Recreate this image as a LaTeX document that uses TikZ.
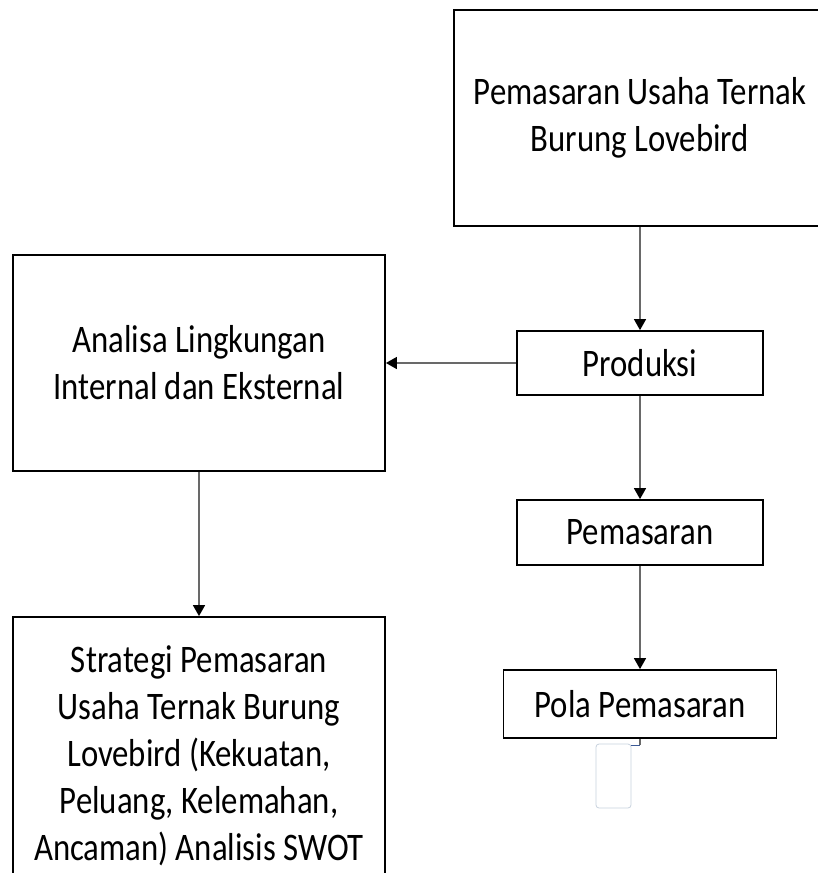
\documentclass[tikz,border=0pt]{standalone}
\usepackage{fontspec}
\setmainfont[FakeStretch=0.84]{Carlito}
\usetikzlibrary{arrows.meta}
\definecolor{conncol}{RGB}{105,105,105}
\definecolor{ghostcol}{RGB}{200,210,222}
\definecolor{stubblue}{RGB}{60,90,150}
\begin{document}
\begin{tikzpicture}[x=1pt,y=-1pt,
  box/.style={draw=black, line width=1.8pt, fill=white, align=center, inner sep=0pt,
              font=\fontsize{39}{47}\selectfont},
  txt/.style={align=center, inner sep=0pt, font=\fontsize{39}{47}\selectfont},
  conn/.style={draw=conncol, line width=1.4pt, -{Triangle[length=11pt,width=12pt,color=black]}},
  stub/.style={draw=conncol, line width=1.4pt},
  ghost/.style={draw=ghostcol, line width=0.8pt, rounded corners=3pt, inner sep=0pt}
]
\clip (0,0) rectangle (818,873);
\fill[white] (0,0) rectangle (818,873);

\node[box, minimum width=372pt, minimum height=216pt] (top) at (640,118)
  {Pemasaran Usaha Ternak\\Burung Lovebird};
\node[box, minimum width=372pt, minimum height=216pt] (anal) at (199,363)
  {Analisa Lingkungan\\Internal dan Eksternal};
\node[box, minimum width=246pt, minimum height=64pt] (prod) at (640,363) {Produksi};
\node[box, minimum width=246pt, minimum height=65pt] (pem) at (640,532.5) {Pemasaran};
\node[box, minimum width=273pt, minimum height=68pt] (pola) at (640,704) {Pola Pemasaran};
\node[box, minimum width=372pt, minimum height=280pt] (strat) at (199,757) {};
\node[txt] (strattext) at (199,756)
  {Strategi Pemasaran\\Usaha Ternak Burung\\Lovebird (Kekuatan,\\Peluang, Kelemahan,\\Ancaman) Analisis SWOT};

\node[ghost, minimum width=35pt, minimum height=64pt] (ghostbox) at (613.5,776) {};

\draw[conn] (top.south) -- (prod.north);
\draw[conn] (prod.west) -- (anal.east);
\draw[conn] (anal.south) -- (strat.north);
\draw[conn] (prod.south) -- (pem.north);
\draw[conn] (pem.south) -- (pola.north);

\coordinate (stubend) at (640,745);
\coordinate (stubleft) at (631,745);
\draw[stub] (pola.south) -- (stubend);
\draw[draw=stubblue, line width=1pt] (stubend) -- (stubleft);
\end{tikzpicture}
\end{document}
